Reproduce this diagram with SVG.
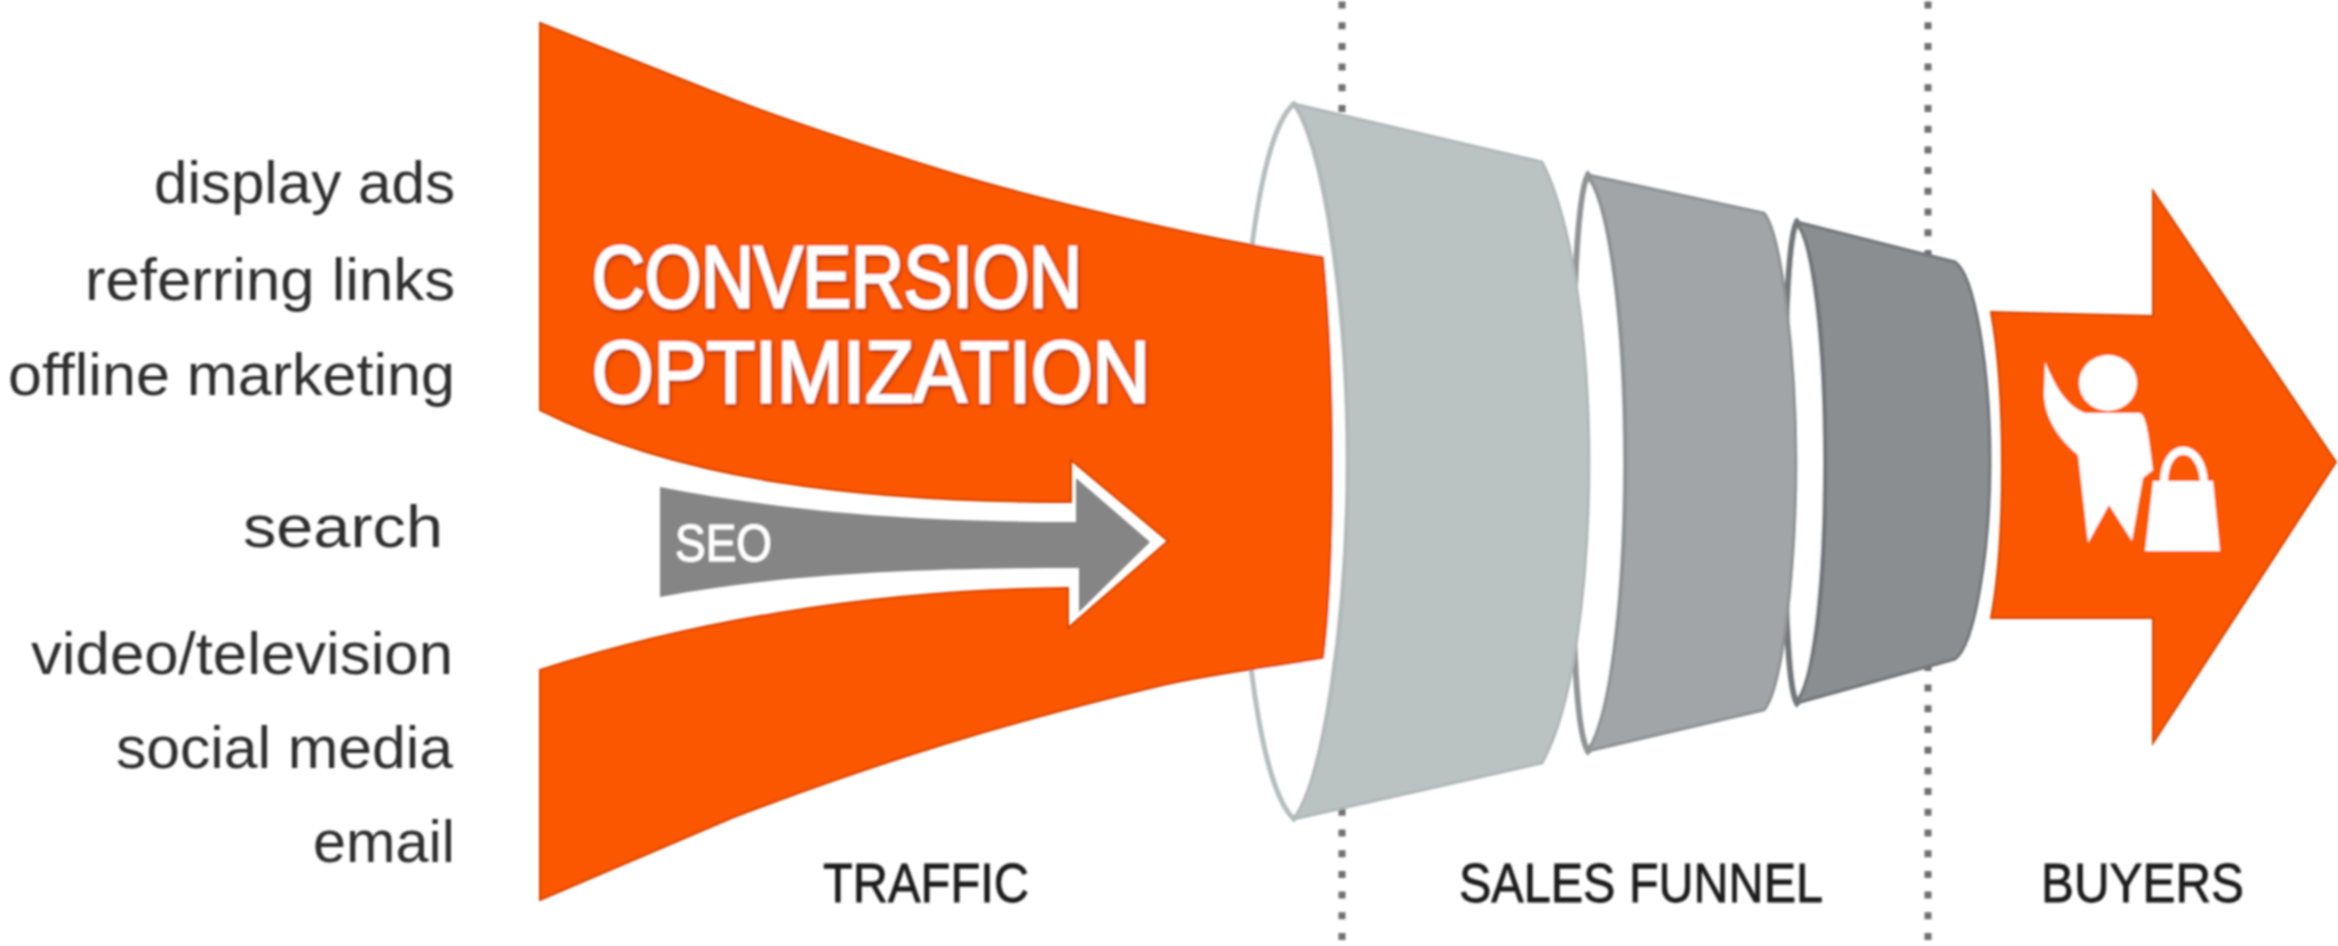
<svg xmlns="http://www.w3.org/2000/svg" width="2338" height="946" viewBox="0 0 2338 946">
<style>
.src{font-family:"Liberation Sans","Open Sans",sans-serif;font-size:60px;fill:#2e2e2e;text-anchor:end}
.sec{font-family:"Liberation Sans","Open Sans",sans-serif;font-size:56px;fill:#1e1e1e;stroke:#1e1e1e;stroke-width:.8px}
.hd{font-family:"Liberation Sans","Open Sans",sans-serif;font-size:87px;fill:#fff;stroke:#fff;stroke-width:2.4px}
.dot{fill:none;stroke:#6f6f6f;stroke-width:7;stroke-dasharray:7 13.7;stroke-dashoffset:-1.5}
.o{fill:#fb5606;stroke:#d84300;stroke-width:2}
</style>
<defs>
<filter id="s" x="-2%" y="-2%" width="104%" height="104%"><feGaussianBlur stdDeviation="0.9"/></filter>
<filter id="h" x="-5%" y="-15%" width="110%" height="130%"><feDropShadow dx="1" dy="2" stdDeviation="2" flood-color="#a02c00"/></filter>
</defs>
<rect width="2338" height="946" fill="#fff"/>
<g filter="url(#s)">
<g id="connectors">
<path class="dot" d="M1342 0V946"/>
<path class="dot" d="M1928 0V946"/>
</g>
<g id="funnel-3">
<path d="M1797 222C1788 235 1784 340 1784 462C1784 590 1788 690 1797 703C1814 685 1826 590 1826 462C1826 340 1814 240 1797 222Z" fill="#fff" stroke="#72777a" stroke-width="6"/>
<path d="M1797 222L1955 262C1975 275 1990 370 1990 462C1990 550 1975 645 1955 659L1797 703C1816 670 1826 590 1826 462C1826 340 1816 250 1797 222Z" fill="#8b8e91" stroke="#72777a" stroke-width="3"/>
</g>
<g id="funnel-2">
<path d="M1588 175C1576 195 1572 330 1572 462C1572 600 1574 730 1588 751C1610 730 1626 600 1626 462C1626 320 1610 200 1588 175Z" fill="#fff" stroke="#8f9494" stroke-width="6"/>
<path d="M1588 175L1764 213C1782 235 1796 360 1796 462C1796 570 1782 690 1764 710L1588 751C1612 710 1626 590 1626 462C1626 330 1612 210 1588 175Z" fill="#a1a5a7" stroke="#8d9294" stroke-width="3"/>
</g>
<g id="funnel-1">
<path d="M1294 104C1262 130 1240 280 1240 462C1240 640 1262 790 1294 819C1322 790 1348 620 1348 462C1348 300 1322 140 1294 104Z" fill="#fff" stroke="#b5bdbd" stroke-width="5"/>
<path d="M1294 104L1542 162C1572 220 1589 340 1589 462C1589 590 1572 710 1542 763L1294 819C1326 770 1348 620 1348 462C1348 300 1326 150 1294 104Z" fill="#bbc2c2" stroke="#b0b8b8" stroke-width="3"/>
</g>
<g id="traffic">
<path class="o" d="M540 23C605 49 670 74 734 100C805 127 877 150 948 172C1020 194 1092 211 1163 227C1216 239 1270 249 1323 257C1329 320 1332 390 1332 462C1332 540 1329 610 1323 658C1270 667 1216 673 1163 685C1092 702 1020 721 948 743C877 765 805 790 734 817C670 845 605 872 540 900V670C680 625 860 590 1068 588V628L1168 541L1071 460V502C860 502 680 480 540 410Z"/>
<g filter="url(#h)">
<text class="hd" x="592" y="307" textLength="490" lengthAdjust="spacingAndGlyphs">CONVERSION</text>
<text class="hd" x="592" y="402" textLength="558" lengthAdjust="spacingAndGlyphs">OPTIMIZATION</text>
</g>
</g>
<g id="seo">
<path d="M660 487C780 510 900 522 1076 522V478L1150 542L1079 612V568C900 568 780 575 660 597Z" fill="#858585"/>
<text x="675" y="561" font-family="'Liberation Sans',sans-serif" font-size="52" fill="#fff" stroke="#fff" stroke-width="1" textLength="97" lengthAdjust="spacingAndGlyphs">SEO</text>
</g>
<g id="buyers">
<path class="o" d="M1991 312L2153 316V191L2336 462L2153 743V618H1991C2000 570 2002 520 2002 466C2002 410 2000 360 1991 312Z"/>
<ellipse cx="2108" cy="383" rx="29" ry="28" fill="#fff"/>
<path d="M2045 362C2055 385 2065 405 2085 413H2140C2147 416 2149 440 2153 470L2143 478L2132 541L2109 505L2088 543L2078 455C2060 440 2045 420 2044 395Z" fill="#fff"/>
<path d="M2153 481H2213L2220 551H2145Z" fill="#fff"/>
<path d="M2164 483C2164 440 2202 440 2204 483" fill="none" stroke="#fff" stroke-width="8"/>
</g>
<g id="labels">
<text class="src" x="455" y="203" textLength="301" lengthAdjust="spacingAndGlyphs">display ads</text>
<text class="src" x="455" y="300" textLength="370" lengthAdjust="spacingAndGlyphs">referring links</text>
<text class="src" x="455" y="395" textLength="447" lengthAdjust="spacingAndGlyphs">offline marketing</text>
<text class="src" x="443" y="547" textLength="200" lengthAdjust="spacingAndGlyphs">search</text>
<text class="src" x="453" y="674" textLength="422" lengthAdjust="spacingAndGlyphs">video/television</text>
<text class="src" x="453" y="768" textLength="337" lengthAdjust="spacingAndGlyphs">social media</text>
<text class="src" x="455" y="862" textLength="142" lengthAdjust="spacingAndGlyphs">email</text>
<text class="sec" x="823" y="902" textLength="206" lengthAdjust="spacingAndGlyphs">TRAFFIC</text>
<text class="sec" x="1459" y="902" textLength="364" lengthAdjust="spacingAndGlyphs">SALES FUNNEL</text>
<text class="sec" x="2041" y="902" textLength="203" lengthAdjust="spacingAndGlyphs">BUYERS</text>
</g>
</g>
</svg>
